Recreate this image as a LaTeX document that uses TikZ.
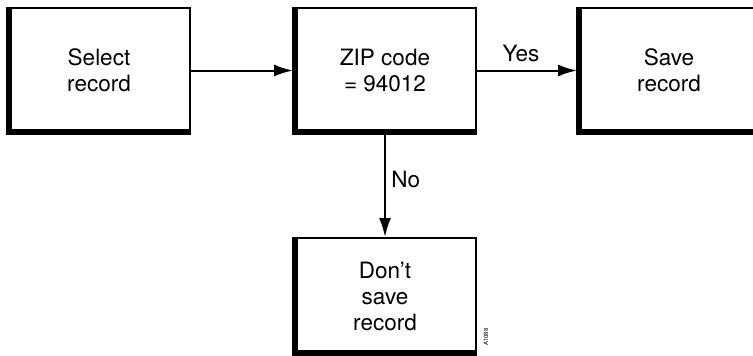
\documentclass[tikz,border=0pt]{standalone}
\usepackage{fontspec}
\setmainfont{TeX Gyre Heros}
\usetikzlibrary{arrows.meta}
\newfontfamily\labelfont{TeX Gyre Heros}
\tikzset{
   every path/.style={>={Latex[length=19pt,width=12pt]}},
   recbox/.style={draw,line width=2pt,minimum width=182pt,minimum height=125pt,
     inner sep=0pt,align=center,font=\fontsize{22.5}{26}\selectfont},
   heavy/.style={line width=6.5pt,line join=miter},
   flow/.style={->,line width=2pt},
   flowlabel/.style={font=\fontsize{22.5}{26}\selectfont},
 }
\newcommand{\heavyedges}[1]{\draw[heavy] ([xshift=2pt]#1.north west) |- ([yshift=2pt]#1.south east)}
\newcommand{\dflow}[2]{\draw[flow] (#1) -- (#2)}

\begin{document}
\begin{tikzpicture}[x=1pt,y=-1pt]
      \useasboundingbox (0,0) rectangle (753,356);
      \clip (0,0) rectangle (753,356);

      \node[recbox] (select) at (99,70.5) {Select\\record};
      \heavyedges{select};

      \node[recbox] (zip) at (385,70.5) {ZIP code\\= 94012};
      \heavyedges{zip};

      \node[recbox] (save) at (669,70.5) {Save\\record};
      \heavyedges{save};

      \node[recbox,minimum height=116pt] (nosave) at (385,296) {Don't\\save\\record};
      \heavyedges{nosave};

      \dflow{select}{zip};
      \draw[flow] (zip) -- node[flowlabel,above=4pt,pos=0.44] (yes) {Yes} (save);
      \draw[flow] (zip) -- node[flowlabel,right=2pt,pos=0.44] (no) {No} (nosave);

      \node[rotate=90,font=\labelfont\fontsize{6}{7}\selectfont,inner sep=0pt] (figid) at (486,337) {A1088};
    \end{tikzpicture}
\end{document}
